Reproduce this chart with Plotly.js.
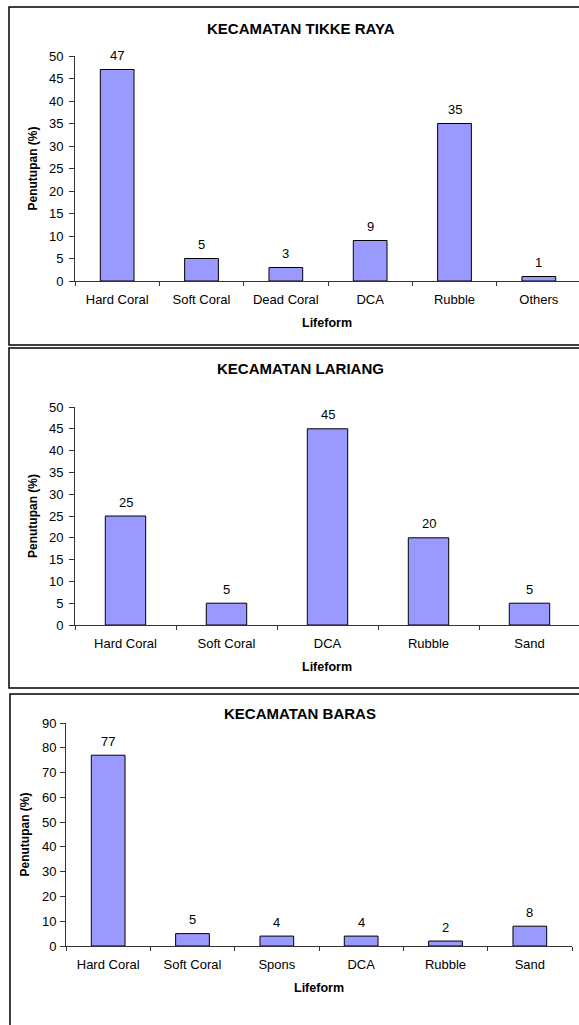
<!DOCTYPE html>
<html>
<head>
<meta charset="utf-8">
<script src="https://cdn.plot.ly/plotly-3.0.1.min.js"></script>
<style>html,body{margin:0;padding:0;background:#fff;}#chart{width:579px;height:1025px;}</style>
</head>
<body>
<div id="chart"></div>
<script>
// ---- data ----
const titles = ['KECAMATAN TIKKE RAYA', 'KECAMATAN LARIANG', 'KECAMATAN BARAS'];
const catsTikke = ['Hard Coral', 'Soft Coral', 'Dead Coral', 'DCA', 'Rubble', 'Others'];
const valsTikke = [47, 5, 3, 9, 35, 1];
const catsLariang = ['Hard Coral', 'Soft Coral', 'DCA', 'Rubble', 'Sand'];
const valsLariang = [25, 5, 45, 20, 5];
const catsBaras = ['Hard Coral', 'Soft Coral', 'Spons', 'DCA', 'Rubble', 'Sand'];
const valsBaras = [77, 5, 4, 4, 2, 8];
const xTitle = 'Lifeform';
const yTitle = 'Penutupan (%)';

// ---- layout helpers ----
const W = 579, H = 1025;
const px = v => v / W;
const py = v => 1 - v / H;
const FONT = 'Liberation Sans, Arial, sans-serif';
const axisCol = '#333333';

function bar(cats, vals, xa, ya) {
  return {
    type: 'bar', x: cats, y: vals, xaxis: xa, yaxis: ya,
    width: 0.4,
    marker: {color: '#9999FF', line: {color: '#000000', width: 1}},
    hoverinfo: 'x+y', showlegend: false
  };
}
function labels(cats, vals, xr, yr) {
  return cats.map((c, i) => ({
    x: c, y: vals[i], xref: xr, yref: yr, text: String(vals[i]),
    showarrow: false, yanchor: 'middle', yshift: 14,
    font: {family: FONT, size: 13, color: '#000'}
  }));
}
function xaxis(domain, range, anchor) {
  return {
    domain: domain, range: range, anchor: anchor, type: 'category',
    showline: true, linecolor: axisCol, linewidth: 1,
    ticks: 'outside', tickson: 'boundaries', ticklen: 4, tickcolor: axisCol,
    ticklabelstandoff: 6,
    showgrid: false, zeroline: false, fixedrange: true,
    tickfont: {family: FONT, size: 13, color: '#000'},
    title: {text: xTitle, standoff: 12, font: {family: FONT, size: 12.5, color: '#000', weight: 'bold'}}
  };
}
function yaxis(domain, range, dtick, anchor, lblStandoff, standoff) {
  return {
    domain: domain, range: range, dtick: dtick, anchor: anchor,
    showline: true, linecolor: axisCol, linewidth: 1,
    ticks: 'outside', ticklen: 5, tickcolor: axisCol,
    ticklabelstandoff: lblStandoff,
    showgrid: false, zeroline: false, fixedrange: true,
    tickfont: {family: FONT, size: 13, color: '#000'},
    title: {text: yTitle, standoff: standoff, font: {family: FONT, size: 12, color: '#000', weight: 'bold'}}
  };
}

const data = [
  bar(catsTikke, valsTikke, 'x', 'y'),
  bar(catsLariang, valsLariang, 'x2', 'y2'),
  bar(catsBaras, valsBaras, 'x3', 'y3')
];

const titleAnn = [
  {text: titles[0], x: px(301), y: py(28)},
  {text: titles[1], x: px(300), y: py(368)},
  {text: titles[2], x: px(300), y: py(713)}
].map(a => Object.assign(a, {
  xref: 'paper', yref: 'paper', showarrow: false, xanchor: 'center', yanchor: 'middle',
  font: {family: FONT, size: 15, color: '#000', weight: 'bold'}
}));

const annotations = titleAnn
  .concat(labels(catsTikke, valsTikke, 'x', 'y'))
  .concat(labels(catsLariang, valsLariang, 'x2', 'y2'))
  .concat(labels(catsBaras, valsBaras, 'x3', 'y3'));

const boxLine = {color: '#000', width: 1.5};
const shapes = [
  {type: 'rect', xref: 'paper', yref: 'paper', x0: px(9), x1: px(600), y0: py(345), y1: py(7), line: boxLine},
  {type: 'rect', xref: 'paper', yref: 'paper', x0: px(9), x1: px(600), y0: py(688), y1: py(348), line: boxLine},
  {type: 'rect', xref: 'paper', yref: 'paper', x0: px(10), x1: px(600), y0: py(1040), y1: py(694), line: boxLine}
];

const layout = {
  width: W, height: H,
  margin: {l: 0, r: 0, t: 0, b: 0},
  paper_bgcolor: '#fff', plot_bgcolor: '#fff',
  font: {family: FONT, color: '#000'},
  showlegend: false,
  xaxis: xaxis([px(75), 1], [-0.5, 5.5 - 2 / 84.3], 'y'),
  yaxis: yaxis([py(281), py(56)], [0, 50], 5, 'x', 3, 8),
  xaxis2: xaxis([px(75), 1], [-0.5, 4.5 - 1 / 101], 'y2'),
  yaxis2: yaxis([py(625), py(407)], [0, 50], 5, 'x2', 3, 8),
  xaxis3: xaxis([px(66), px(572)], [-0.5, 5.5], 'y3'),
  yaxis3: yaxis([py(946), py(723)], [0, 90], 10, 'x3', 1, 9),
  annotations: annotations,
  shapes: shapes
};

Plotly.newPlot('chart', data, layout, {displayModeBar: false, staticPlot: true});
</script>
</body>
</html>
